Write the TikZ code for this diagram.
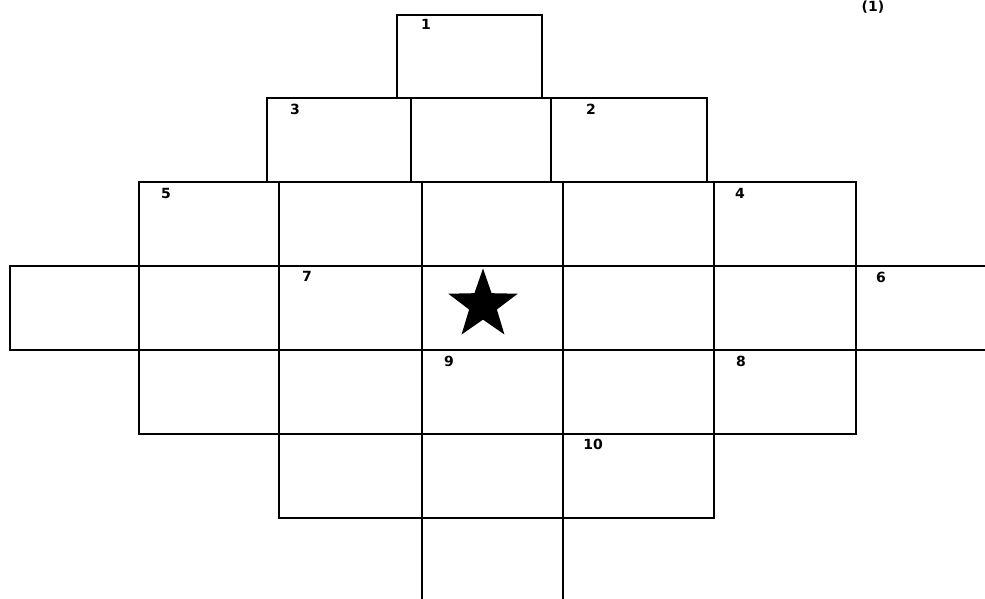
\documentclass[tikz,border=0pt]{standalone}
\usepackage{fontspec}
\setmainfont{DejaVu Sans}
\usetikzlibrary{shapes.geometric}
\tikzset{
  gridline/.style={line width=2.1pt, line cap=rect},
  numlbl/.style={inner sep=0pt, font=\bfseries\fontsize{14pt}{15pt}\selectfont},
  bigstar/.style={star, star points=5, star point ratio=2.5, fill=black,
    minimum size=73pt, inner sep=0pt}
}

\begin{document}
\begin{tikzpicture}[x=1pt,y=-1pt]
  \useasboundingbox (0,0) rectangle (985,599);
  \clip (0,0) rectangle (985,599);
  % top block
  \draw[gridline] (397,15) rectangle (542,98);
  % second row
  \foreach \xa/\xb in {267/411, 411/551, 551/707}
    \draw[gridline] (\xa,98) rectangle (\xb,182);
  % third and fifth rows
  \foreach \ya/\yb in {182/266, 350/434}
    \foreach \xa/\xb in {139/279, 279/422, 422/563, 563/714, 714/856}
      \draw[gridline] (\xa,\ya) rectangle (\xb,\yb);
  % middle row, open to the right
  \foreach \xa/\xb in {10/139, 139/279, 279/422, 422/563, 563/714, 714/856}
    \draw[gridline] (\xa,266) rectangle (\xb,350);
  \draw[gridline] (856,266) -- (995,266);
  \draw[gridline] (856,350) -- (995,350);
  % sixth row
  \foreach \xa/\xb in {279/422, 422/563, 563/714}
    \draw[gridline] (\xa,434) rectangle (\xb,518);
  % open bottom
  \draw[gridline] (422,518) -- (422,610);
  \draw[gridline] (563,518) -- (563,610);

  \node[bigstar] (goal) at (483,305) {};

  \node[numlbl] (n1) at (426,24) {1};
  \node[numlbl] (n2) at (591,109) {2};
  \node[numlbl] (n3) at (295,109) {3};
  \node[numlbl] (n4) at (740,193) {4};
  \node[numlbl] (n5) at (166,193) {5};
  \node[numlbl] (n6) at (881,277) {6};
  \node[numlbl] (n7) at (307,276) {7};
  \node[numlbl] (n8) at (741,361) {8};
  \node[numlbl] (n9) at (449,361) {9};
  \node[numlbl] (n10) at (593,444) {10};
  \node[numlbl, anchor=north] (tag) at (873,1) {(1)};
\end{tikzpicture}
\end{document}
